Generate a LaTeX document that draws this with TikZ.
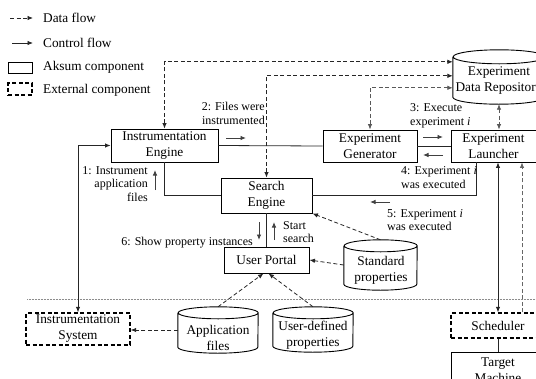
\documentclass[tikz,border=0pt]{standalone}
\usepackage{fontspec}
\setmainfont{Liberation Serif}
\usetikzlibrary{arrows.meta}

\newcommand\boxfont{\fontsize{13.3}{16}\selectfont}
\newcommand\notefont{\fontsize{12}{13.8}\selectfont}

% outline of a data store: name of the node, x radius, y radius of the rims
\newcommand\drumoutline[3]{%
  \draw[boxline] ([yshift=-#3]#1.north west) -- ([yshift=#3]#1.south west)
    arc[start angle=180,end angle=360,x radius=#2,y radius=#3]
    -- ([yshift=-#3]#1.north east)
    arc[start angle=0,end angle=360,x radius=#2,y radius=#3];}

\begin{document}
\begin{tikzpicture}[x=1pt,y=-1pt,
  >={Latex[length=5.5pt,width=4.5pt]},
  boxline/.style={line width=0.9pt},
  box/.style={draw, boxline, inner sep=0pt, align=center, font=\boxfont},
  extbox/.style={box, line width=1.4pt, dash pattern=on 4pt off 2.5pt},
  storebox/.style={inner sep=0pt},
  storetext/.style={inner sep=0pt, align=center, font=\boxfont},
  legendtext/.style={inner sep=0pt, anchor=west, font=\boxfont},
  notetext/.style={inner sep=0pt, font=\notefont},
  ctrl/.style={line width=0.8pt, black!85},
  data/.style={line width=0.8pt, black!85, dash pattern=on 4pt off 2.5pt},
  hint/.style={line width=0.9pt, black!75, ->},
]
\useasboundingbox (0,0) rectangle (536,378);

% separator between the tool and the environment
\draw[black!45, line width=0.5pt, densely dotted] (27,299.5) -- (536,299.5);

% legend
\coordinate (lg-d0) at (10,18);  \coordinate (lg-d1) at (33,18);
\coordinate (lg-c0) at (12,43);  \coordinate (lg-c1) at (33,43);
\draw[data,->] (lg-d0) -- (lg-d1);
\draw[ctrl,->] (lg-c0) -- (lg-c1);
\node[box, minimum width=24pt, minimum height=11pt] (lg-abox) at (20,67.5) {};
\node[extbox, minimum width=24pt, minimum height=12pt] (lg-ebox) at (20,89) {};
\node[legendtext] (lg-dtext) at (43,18) {Data flow};
\node[legendtext] (lg-ctext) at (43,43) {Control flow};
\node[legendtext] (lg-atext) at (43,67) {Aksum component};
\node[legendtext] (lg-etext) at (43,90) {External component};

% components
\node[box, minimum width=107pt, minimum height=33pt] (ieng) at (164.5,145.5) {Instrumentation\\Engine};
\node[box, minimum width=94pt, minimum height=32pt] (egen) at (370,146) {Experiment\\Generator};
\node[box, minimum width=85pt, minimum height=32pt] (elaunch) at (493.5,146) {Experiment\\Launcher};
\node[box, minimum width=91pt, minimum height=35pt] (seng) at (266.5,195.5) {Search\\Engine};
\node[box, minimum width=85pt, minimum height=26pt] (uport) at (266.5,260) {User Portal};
\node[extbox, minimum width=104pt, minimum height=32pt] (isys) at (78,329) {Instrumentation\\System};
\node[extbox, minimum width=94pt, minimum height=25pt] (sched) at (498,325.5) {Scheduler};
\node[box, minimum width=94pt, minimum height=36pt] (tmach) at (498,370) {Target\\Machine};

% data stores
\node[storebox, minimum width=92pt, minimum height=54pt] (repo) at (499,77) {};
\node[storebox, minimum width=73pt, minimum height=50pt] (stdp) at (380.5,265) {};
\node[storebox, minimum width=80pt, minimum height=46pt] (appf) at (218,330) {};
\node[storebox, minimum width=80pt, minimum height=45pt] (udef) at (313,329.5) {};
\drumoutline{repo}{46pt}{7pt}
\drumoutline{stdp}{36.5pt}{6pt}
\drumoutline{appf}{40pt}{6pt}
\drumoutline{udef}{40pt}{6pt}
\node[storetext] (repo-text) at (499,81) {Experiment\\Data Repository};
\node[storetext] (stdp-text) at (381,270) {Standard\\properties};
\node[storetext] (appf-text) at (218,337.5) {Application\\files};
\node[storetext] (udef-text) at (313,335) {User-defined\\properties};

% control flow
\draw[ctrl,<->] (isys.north) |- (ieng.west);
\draw[ctrl] (ieng.east) -- (egen.west);
\draw[ctrl] (egen.east) -- (elaunch.west);
\draw[ctrl] (ieng.south) |- (seng.west);
\draw[ctrl] (seng.east) -| ([xshift=-17pt]elaunch.south);
\draw[ctrl] (seng.south) -- (uport.north);
\draw[ctrl,<->] (sched.north) -- (sched.north |- elaunch.south);
\draw[ctrl] (sched.south) -- (tmach.north);

% data flow
\draw[data,<->] (ieng.north) |- ([yshift=-12pt]repo.north west);
\draw[data,<->] (seng.north) |- ([yshift=-26pt]repo.north west);
\draw[data,<->,black!65] (egen.north) |- ([yshift=-38pt]repo.north west);
\draw[data,<->,black!65] (repo.south) -- (repo.south |- elaunch.north);
\draw[data,->,black!60] ([xshift=24pt]sched.north) -- ([xshift=24pt]sched.north |- elaunch.south);
\draw[data,->] (appf.west) -- (appf.west -| isys.east);
\draw[data,->] (appf.north) -- ([xshift=-3pt]uport.south);
\draw[data,->] (udef.north) -- ([xshift=2pt]uport.south);
\draw[data,->] (stdp.west) -- (uport.east);
\draw[data,->] (stdp.north) -- (seng.south east);

% step labels
\node[notetext, align=right, anchor=east] (n1) at (148,184) {1: Instrument\\application\\files};
\node[notetext, align=right, anchor=east] (n2) at (265,113) {2: Files were\\instrumented};
\node[notetext, align=left, anchor=west] (n3) at (410,115.5) {3: Execute\\experiment \textit{i}};
\node[notetext, align=left, anchor=west] (n4) at (401,177.5) {4: Experiment \textit{i}\\was executed};
\node[notetext, align=left, anchor=west] (n5) at (387,220) {5: Experiment \textit{i}\\was executed};
\node[notetext, anchor=east] (n6) at (253,243) {6: Show property instances};
\node[notetext, align=left, anchor=west] (nstart) at (283,232) {Start\\search};

% direction hints next to the step labels
\draw[hint] (155,190) -- (155,170);
\draw[hint] (226,138) -- (246,138);
\draw[hint] (423,137) -- (443,137);
\draw[hint] (443,155) -- (423,155);
\draw[hint] (390,202) -- (370,202);
\draw[hint] (259,222) -- (259,240);
\draw[hint] (274,240) -- (274,222);
\end{tikzpicture}
\end{document}
